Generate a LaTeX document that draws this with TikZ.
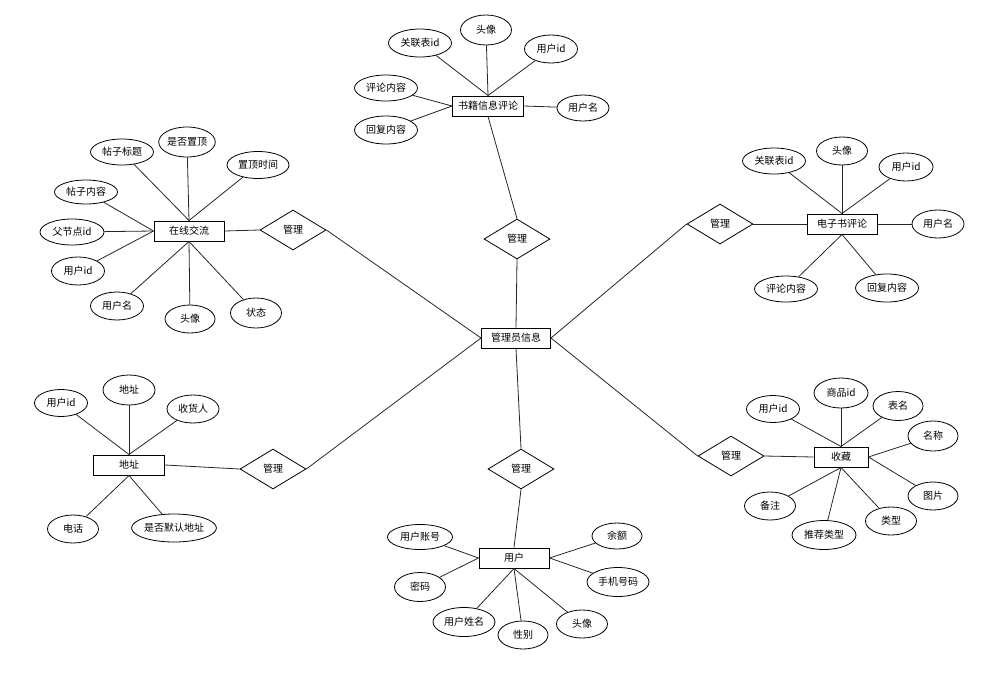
\documentclass[tikz,border=0pt]{standalone}
\usepackage{fontspec}
\setmainfont{Noto Sans CJK SC}
\usetikzlibrary{shapes.geometric}

\begin{document}
\begin{tikzpicture}[x=1pt,y=-1pt,
  every node/.style={font=\fontsize{10}{12}\selectfont,inner sep=0pt},
  entity/.style={draw,rectangle,line width=1pt,minimum width=#1,minimum height=20pt},
  entity/.default=70pt,
  attr/.style 2 args={draw,ellipse,line width=0.8pt,minimum width=#1,minimum height=#2},
  rel/.style={draw,diamond,line width=0.8pt,minimum width=66pt,minimum height=40pt},
  link/.style={line width=0.8pt,black!85}]
  \useasboundingbox (0,0) rectangle (988,678);

  \node[entity=69pt] (admin) at (516,338) {管理员信息};

  \node[rel] (rBook) at (517,239) {管理};
  \node[rel] (rForum) at (293,230) {管理};
  \node[rel] (rEbook) at (720,224) {管理};
  \node[rel] (rAddr) at (273,469) {管理};
  \node[rel] (rFav) at (731,456) {管理};
  \node[rel] (rUser) at (521,469) {管理};

  \node[entity=71pt] (book) at (488,106) {书籍信息评论};
  \node[attr={63pt}{28pt}] (bookLink) at (420,43) {关联表id};
  \node[attr={51pt}{30pt}] (bookAvatar) at (486,30) {头像};
  \node[attr={53pt}{28pt}] (bookUid) at (551,49) {用户id};
  \node[attr={63pt}{26pt}] (bookText) at (386,88) {评论内容};
  \node[attr={63pt}{28pt}] (bookReply) at (386,130) {回复内容};
  \node[attr={52pt}{26pt}] (bookUname) at (583,108) {用户名};

  \node[entity] (forum) at (189,231) {在线交流};
  \node[attr={63pt}{26pt}] (forumTitle) at (122,152) {帖子标题};
  \node[attr={54pt}{30pt}] (forumTop) at (187,142) {是否置顶};
  \node[attr={62pt}{27pt}] (forumTopTime) at (258,165) {置顶时间};
  \node[attr={63pt}{24pt}] (forumText) at (86,192) {帖子内容};
  \node[attr={64pt}{26pt}] (forumParent) at (72,232) {父节点id};
  \node[attr={53pt}{28pt}] (forumUid) at (78,271) {用户id};
  \node[attr={53pt}{28pt}] (forumUname) at (117,306) {用户名};
  \node[attr={50pt}{28pt}] (forumAvatar) at (190,319) {头像};
  \node[attr={51pt}{30pt}] (forumState) at (256,313) {状态};

  \node[entity] (ebook) at (842,224) {电子书评论};
  \node[attr={63pt}{26pt}] (ebookLink) at (774,161) {关联表id};
  \node[attr={51pt}{28pt}] (ebookAvatar) at (842,151) {头像};
  \node[attr={54pt}{28pt}] (ebookUid) at (906,167) {用户id};
  \node[attr={52pt}{28pt}] (ebookUname) at (938,224) {用户名};
  \node[attr={63pt}{26pt}] (ebookText) at (786,289) {评论内容};
  \node[attr={63pt}{28pt}] (ebookReply) at (887,288) {回复内容};

  \node[entity=71pt] (addr) at (129,465) {地址};
  \node[attr={53pt}{27pt}] (addrUid) at (61,403) {用户id};
  \node[attr={52pt}{30pt}] (addrAddr) at (129,390) {地址};
  \node[attr={52pt}{28pt}] (addrName) at (193,409) {收货人};
  \node[attr={51pt}{28pt}] (addrPhone) at (73,529) {电话};
  \node[attr={84pt}{28pt}] (addrDefault) at (174,528) {是否默认地址};

  \node[entity=54pt] (fav) at (841,457) {收藏};
  \node[attr={53pt}{27pt}] (favUid) at (773,409) {用户id};
  \node[attr={54pt}{30pt}] (favGoods) at (841,393) {商品id};
  \node[attr={50pt}{29pt}] (favTable) at (898,406) {表名};
  \node[attr={50pt}{30pt}] (favName) at (933,436) {名称};
  \node[attr={50pt}{28pt}] (favPic) at (933,496) {图片};
  \node[attr={51pt}{28pt}] (favType) at (891,521) {类型};
  \node[attr={64pt}{29pt}] (favRec) at (824,535) {推荐类型};
  \node[attr={51pt}{28pt}] (favNote) at (770,506) {备注};

  \node[entity] (user) at (514,558) {用户};
  \node[attr={65pt}{25pt}] (userAcc) at (420,537) {用户账号};
  \node[attr={51pt}{29pt}] (userPwd) at (420,587) {密码};
  \node[attr={62pt}{29pt}] (userName) at (464,622) {用户姓名};
  \node[attr={50pt}{28pt}] (userSex) at (523,635) {性别};
  \node[attr={51pt}{28pt}] (userAvatar) at (582,624) {头像};
  \node[attr={50pt}{26pt}] (userBal) at (617,536) {余额};
  \node[attr={62pt}{29pt}] (userPhone) at (618,582) {手机号码};

  \foreach \a in {bookLink,bookAvatar,bookUid} \draw[link] (\a) -- (book.north);
  \foreach \a in {bookText,bookReply} \draw[link] (\a) -- (book.west);
  \draw[link] (bookUname) -- (book.east);
  \draw[link] (book.south) -- (rBook.north);
  \draw[link] (rBook.south) -- (admin.north);

  \foreach \a in {forumTitle,forumTop,forumTopTime} \draw[link] (\a) -- (forum.north);
  \foreach \a in {forumText,forumParent,forumUid} \draw[link] (\a) -- (forum.west);
  \foreach \a in {forumUname,forumAvatar,forumState} \draw[link] (\a) -- (forum.south);
  \draw[link] (forum.east) -- (rForum.west);
  \draw[link] (rForum.east) -- (admin.west);

  \foreach \a in {ebookLink,ebookAvatar,ebookUid} \draw[link] (\a) -- (ebook.north);
  \foreach \a in {ebookText,ebookReply} \draw[link] (\a) -- (ebook.south);
  \draw[link] (ebookUname) -- (ebook.east);
  \draw[link] (rEbook.east) -- (ebook.west);
  \draw[link] (rEbook.west) -- (admin.east);

  \foreach \a in {addrUid,addrAddr,addrName} \draw[link] (\a) -- (addr.north);
  \foreach \a in {addrPhone,addrDefault} \draw[link] (\a) -- (addr.south);
  \draw[link] (addr.east) -- (rAddr.west);
  \draw[link] (rAddr.east) -- (admin.west);

  \foreach \a in {favUid,favGoods,favTable} \draw[link] (\a) -- (fav.north);
  \foreach \a in {favName,favPic} \draw[link] (\a) -- (fav.east);
  \foreach \a in {favNote,favRec,favType} \draw[link] (\a) -- (fav.south);
  \draw[link] (rFav.east) -- (fav.west);
  \draw[link] (rFav.west) -- (admin.east);

  \foreach \a in {userAcc,userPwd} \draw[link] (\a) -- (user.west);
  \foreach \a in {userBal,userPhone} \draw[link] (\a) -- (user.east);
  \foreach \a in {userName,userSex,userAvatar} \draw[link] (\a) -- (user.south);
  \draw[link] (admin.south) -- (rUser.north);
  \draw[link] (rUser.south) -- (user.north);
\end{tikzpicture}
\end{document}
